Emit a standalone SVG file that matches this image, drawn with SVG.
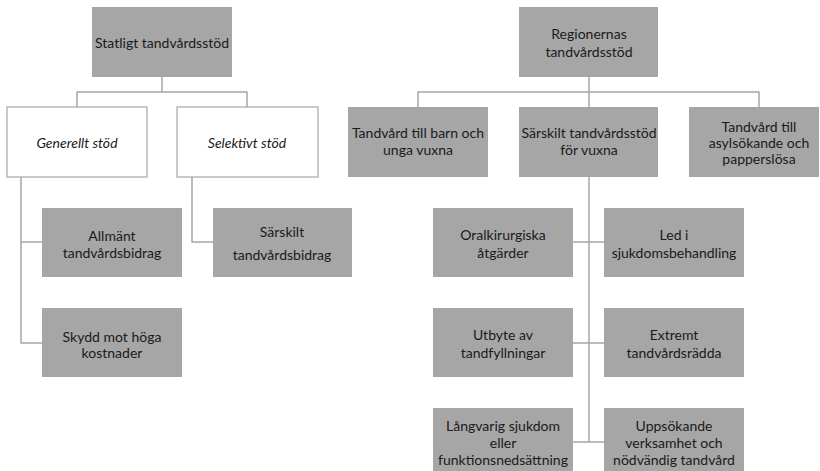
<svg xmlns="http://www.w3.org/2000/svg" width="820" height="471" viewBox="0 0 820 471">
<style>
.box{fill:#a6a6a6;stroke:none}
.wbox{fill:#ffffff;stroke:#a6a6a6;stroke-width:1.2}
.t{font-family:Lato,"Liberation Sans",sans-serif;font-size:14px;fill:#1a1a1a;text-anchor:middle}
.i{font-style:italic}
.c{fill:none;stroke:#a6a6a6;stroke-width:1.5}
</style>
<rect width="820" height="471" fill="#ffffff"/>
<g id="connectors">
<path class="c" d="M162 77V92M77 107V92H247V107"/>
<path class="c" d="M21 177V343H42M21 242H42"/>
<path class="c" d="M192 177V242H213"/>
<path class="c" d="M589 77V107M418 107V92H759V107"/>
<path class="c" d="M589 177V442M573 242H604M573 343H604M573 442H604"/>
</g>
<g id="statligt"><rect class="box" x="92" y="7" width="140" height="70"/><text class="t" x="162" y="48">Statligt tandvårdsstöd</text></g>
<g id="generellt"><rect class="wbox" x="7" y="107" width="140" height="70"/><text class="t i" x="77" y="148">Generellt stöd</text></g>
<g id="selektivt"><rect class="wbox" x="177" y="107" width="141" height="70"/><text class="t i" x="247" y="148">Selektivt stöd</text></g>
<g id="allmant"><rect class="box" x="42" y="208" width="140" height="69"/><text class="t" x="112" y="241">Allmänt</text><text class="t" x="112" y="258">tandvårdsbidrag</text></g>
<g id="skydd"><rect class="box" x="42" y="308" width="140" height="69"/><text class="t" x="112" y="342">Skydd mot höga</text><text class="t" x="112" y="358">kostnader</text></g>
<g id="sarskilt-bidrag"><rect class="box" x="213" y="208" width="139" height="69"/><text class="t" x="282" y="237">Särskilt</text><text class="t" x="282" y="260">tandvårdsbidrag</text></g>
<g id="regionernas"><rect class="box" x="519" y="7" width="139" height="70"/><text class="t" x="589" y="39">Regionernas</text><text class="t" x="589" y="57">tandvårdsstöd</text></g>
<g id="barn"><rect class="box" x="348" y="107" width="140" height="70"/><text class="t" x="418" y="138">Tandvård till barn och</text><text class="t" x="418" y="155">unga vuxna</text></g>
<g id="sarskilt-vuxna"><rect class="box" x="519" y="107" width="139" height="70"/><text class="t" x="589" y="138">Särskilt tandvårdsstöd</text><text class="t" x="589" y="155">för vuxna</text></g>
<g id="asyl"><rect class="box" x="689" y="107" width="130" height="70"/><text class="t" x="759" y="132">Tandvård till</text><text class="t" x="759" y="148">asylsökande och</text><text class="t" x="759" y="164">papperslösa</text></g>
<g id="oralkirurgiska"><rect class="box" x="433" y="208" width="140" height="69"/><text class="t" x="503" y="240">Oralkirurgiska</text><text class="t" x="503" y="258">åtgärder</text></g>
<g id="led"><rect class="box" x="604" y="208" width="140" height="69"/><text class="t" x="674" y="240">Led i</text><text class="t" x="674" y="258">sjukdomsbehandling</text></g>
<g id="utbyte"><rect class="box" x="433" y="308" width="140" height="69"/><text class="t" x="503" y="340">Utbyte av</text><text class="t" x="503" y="358">tandfyllningar</text></g>
<g id="extremt"><rect class="box" x="604" y="308" width="140" height="69"/><text class="t" x="674" y="340">Extremt</text><text class="t" x="674" y="358">tandvårdsrädda</text></g>
<g id="langvarig"><rect class="box" x="433" y="408" width="140" height="63"/><text class="t" x="503" y="431">Långvarig sjukdom</text><text class="t" x="503" y="448">eller</text><text class="t" x="503" y="465">funktionsnedsättning</text></g>
<g id="uppsokande"><rect class="box" x="604" y="408" width="140" height="63"/><text class="t" x="674" y="431">Uppsökande</text><text class="t" x="674" y="448">verksamhet och</text><text class="t" x="674" y="465">nödvändig tandvård</text></g>
</svg>
